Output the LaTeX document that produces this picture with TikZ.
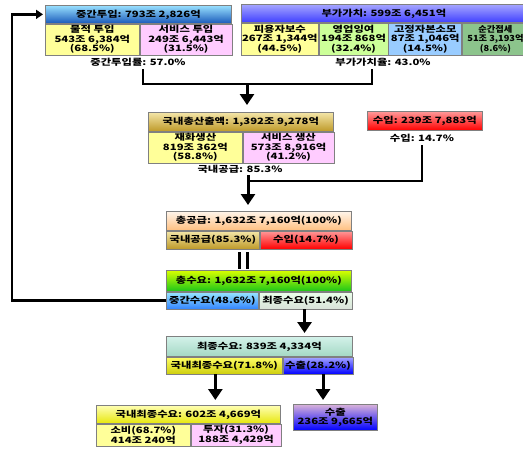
\documentclass[tikz,border=0pt]{standalone}
\usepackage{fontspec}
\newfontfamily\kfont{Noto Sans CJK KR}[FakeStretch=1.3]
\newfontfamily\kfontn{Noto Sans CJK KR}[FakeStretch=1.1]
\usetikzlibrary{arrows.meta,positioning}
\definecolor{lyel}{HTML}{FFFF99}
\definecolor{lpink}{HTML}{FFCCFF}
\definecolor{lgrn}{HTML}{CCFF99}
\definecolor{lblu}{HTML}{99CCFF}
\definecolor{sage}{HTML}{8CC48C}
\definecolor{goldT}{HTML}{F4E6A8}
\definecolor{goldB}{HTML}{BE9A28}
\definecolor{mintT}{HTML}{D4F2EA}
\definecolor{mintB}{HTML}{A4D8C4}
\begin{document}
\begin{tikzpicture}[x=1pt,y=-1pt,
 cell/.style={draw=black!50,line width=0.7pt,inner sep=0pt,anchor=north west,align=center,
  font=\kfont\bfseries\fontsize{8.7}{9.5}\selectfont},
 grad/.style 2 args={top color=#1,bottom color=#2},
 lbl/.style={inner sep=0pt,font=\kfont\bfseries\fontsize{8.7}{9.5}\selectfont},
 link/.style={line width=2.5pt},
 arr/.style={-{Triangle[width=14pt,length=11pt]},line width=3pt},
 back/.style={-{Triangle[width=9pt,length=7pt]},line width=2.5pt}]
\useasboundingbox (0,0) rectangle (523,451);
\node[cell,grad={blue!30!cyan!40}{blue!60!cyan!70!black!90},minimum width=186pt,minimum height=18pt] (mid) at (45,5) {중간투입: 793조 2,826억};
\node[cell,fill=lyel,minimum width=94pt,minimum height=31pt] (mat) at (mid.south west) {물적 투입\\543조 6,384억\\(68.5\%)};
\node[cell,fill=lpink,minimum width=92pt,minimum height=31pt] (svc) at (mat.north east) {서비스 투입\\249조 6,443억\\(31.5\%)};
\node[lbl] (midr) at (138,62) {중간투입률: 57.0\%};
\node[cell,grad={blue!35}{blue!75},minimum width=285pt,minimum height=18pt] (va) at (241,4) {부가가치: 599조 6,451억};
\node[cell,fill=lyel,minimum width=77pt,minimum height=32pt] (wage) at (va.south west) {피용자보수\\267조 1,344억\\(44.5\%)};
\node[cell,fill=lgrn,minimum width=69pt,minimum height=32pt] (surp) at (wage.north east) {영업잉여\\194조 868억\\(32.4\%)};
\node[cell,fill=lblu,minimum width=73pt,minimum height=32pt] (depr) at (surp.north east) {고정자본소모\\87조 1,046억\\(14.5\%)};
\node[cell,fill=sage,minimum width=66pt,minimum height=32pt,font=\kfontn\bfseries\fontsize{8.4}{9.5}\selectfont] (ntax) at (depr.north east) {순간접세\\51조 3,193억\\(8.6\%)};
\node[lbl] (var) at (383,62) {부가가치율: 43.0\%};
\node[cell,grad={goldT}{goldB},minimum width=185pt,minimum height=19pt] (gdp) at (148,112) {국내총산출액: 1,392조 9,278억};
\node[cell,fill=lyel,minimum width=94pt,minimum height=31pt] (goods) at (gdp.south west) {재화생산\\819조 362억\\(58.8\%)};
\node[cell,fill=lpink,minimum width=91pt,minimum height=31pt] (serv) at (goods.north east) {서비스 생산\\573조 8,916억\\(41.2\%)};
\node[lbl] (domr) at (240,169) {국내공급: 85.3\%};
\node[cell,grad={red!40}{red},minimum width=115pt,minimum height=19pt] (imp) at (367,111) {수입: 239조 7,883억};
\node[lbl] (impr) at (422,138) {수입: 14.7\%};
\node[cell,grad={orange!8}{orange!50},minimum width=185pt,minimum height=19pt] (tsup) at (166,211) {총공급: 1,632조 7,160억(100\%)};
\node[cell,grad={goldT}{goldB},minimum width=93pt,minimum height=18pt] (dsup) at (tsup.south west) {국내공급(85.3\%)};
\node[cell,grad={red!40}{red},minimum width=92pt,minimum height=18pt] (isup) at (dsup.north east) {수입(14.7\%)};
\node[cell,grad={yellow!85!green}{green!75!black!90},minimum width=185pt,minimum height=21pt] (tdem) at (166,270) {총수요: 1,632조 7,160억(100\%)};
\node[cell,grad={blue!25!cyan!40}{blue!60!cyan!80},minimum width=92pt,minimum height=17pt] (imd) at (tdem.south west) {중간수요(48.6\%)};
\node[cell,grad={green!8}{green!25!black!15},minimum width=93pt,minimum height=17pt] (fdm) at (imd.north east) {최종수요(51.4\%)};
\node[cell,grad={mintT}{mintB},minimum width=186pt,minimum height=20pt] (fin) at (166,336) {최종수요: 839조 4,334억};
\node[cell,grad={yellow!60}{yellow!80!black!95},minimum width=116pt,minimum height=17pt] (ddm) at (fin.south west) {국내최종수요(71.8\%)};
\node[cell,grad={blue!35}{blue},minimum width=70pt,minimum height=17pt] (exd) at (ddm.north east) {수출(28.2\%)};
\node[cell,grad={yellow!30}{yellow!90!black!95},minimum width=184pt,minimum height=18pt] (dfin) at (96,405) {국내최종수요: 602조 4,669억};
\node[cell,fill=lyel,minimum width=94pt,minimum height=22pt] (cons) at (dfin.south west) {소비(68.7\%)\\414조 240억};
\node[cell,fill=lpink,minimum width=90pt,minimum height=22pt] (inv) at (cons.north east) {투자(31.3\%)\\188조 4,429억};
\node[cell,grad={violet!30}{blue},minimum width=84pt,minimum height=26pt] (exp) at (293,404) {수출\\236조 9,665억};
\coordinate (j1) at (247,84);
\coordinate (j2) at (248,181);
\draw[link] ([xshift=5pt,yshift=-3pt]midr.south) |- (j1) -| ([xshift=-11pt,yshift=-3pt]var.south);
\draw[arr,shorten >=7pt] (j1) -- (j1 |- gdp.north);
\draw[link] ([yshift=-3pt]impr.south) |- (j2);
\draw[arr,shorten >=6pt] ([yshift=-2pt]domr.south -| j2) -- (j2 |- tsup.north);
\foreach \dx in {-20,-12}
 \draw[link,shorten <=3pt,shorten >=1pt] ([xshift=\dx pt]dsup.south east) -- ([xshift=\dx pt]dsup.south east |- tdem.north);
\draw[back,shorten >=2pt] (imd.west) -- ++(-154,0) |- (mid.west);
\draw[arr,shorten >=3pt] ([xshift=-1pt]fdm.south) -- ([xshift=-1pt]fdm.south |- fin.north);
\draw[arr,shorten >=5pt] ([xshift=-9pt]ddm.south) -- ([xshift=-9pt]ddm.south |- dfin.north);
\draw[arr,shorten >=4pt] ([xshift=5pt]exd.south) -- ([xshift=5pt]exd.south |- exp.north);
\end{tikzpicture}
\end{document}
